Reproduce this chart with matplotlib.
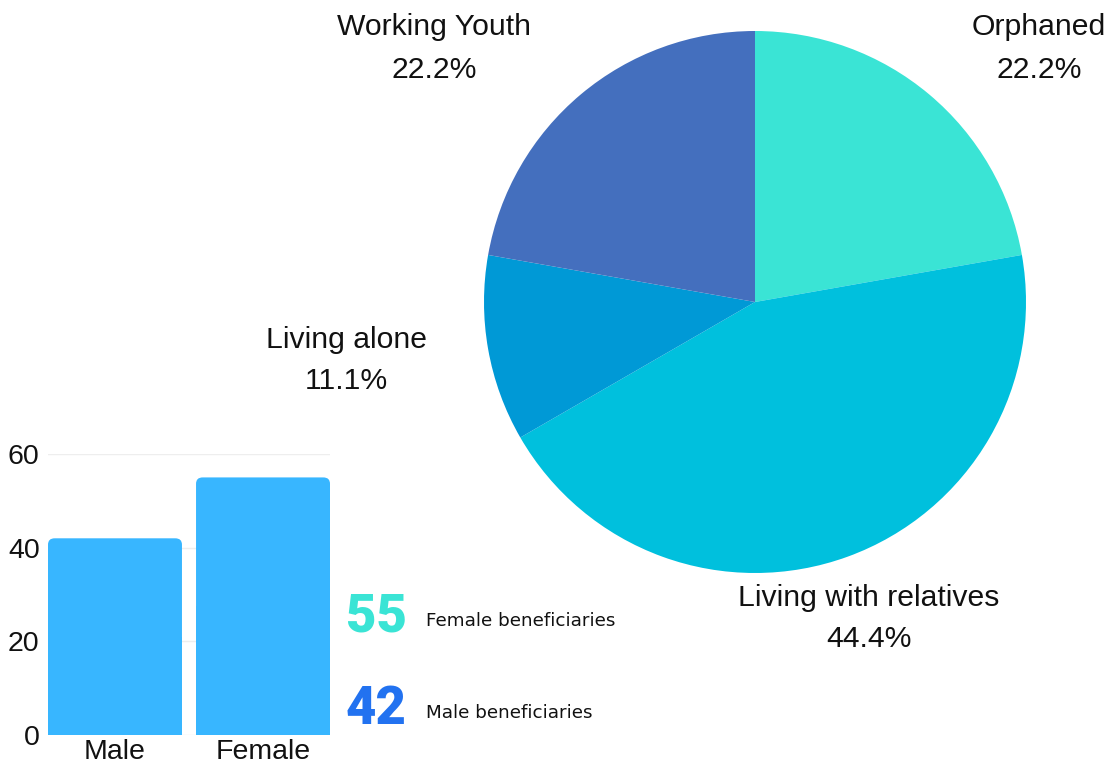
import matplotlib
matplotlib.use("Agg")
import matplotlib.pyplot as plt
from matplotlib import font_manager
from matplotlib.patches import FancyBboxPatch, Rectangle

# pie data
groups = ["Orphaned", "Living with relatives", "Living alone", "Working Youth"]
group_counts = [2, 4, 1, 2]
group_colors = ["#3AE4D5", "#00C0DD", "#0099D6", "#446FBE"]

# bar data
genders = ["Male", "Female"]
gender_counts = [42, 55]
y_ticks = [0, 20, 40, 60]

installed = {f.name for f in font_manager.fontManager.ttflist}
main_font = next((n for n in ["Liberation Sans", "Arimo", "Arial"] if n in installed), "DejaVu Sans")
plt.rcParams['font.family'] = [main_font, 'DejaVu Sans']

W, H = 1114, 768
fig = plt.figure(figsize=(W / 100, H / 100), dpi=100)
fig.patch.set_facecolor("white")


def px(x, y):
    return x / W, 1 - y / H


# ---- pie ----
ax_pie = fig.add_axes([484 / W, (H - 573) / H, 542 / W, 542 / H])
ax_pie.pie(group_counts, colors=group_colors, startangle=90, counterclock=False,
           radius=1, wedgeprops=dict(linewidth=0))
ax_pie.set_xlim(-1, 1)
ax_pie.set_ylim(-1, 1)
ax_pie.axis("off")

total = sum(group_counts)
# label centres in pie units (layout only)
label_xy = [(1.048, 0.935), (0.421, -1.168), (-1.509, -0.215), (-1.185, 0.935)]
label_gap = [1.7, 1.6, 1.6, 1.7]
for name, n, (lx, ly), ls in zip(groups, group_counts, label_xy, label_gap):
    ax_pie.text(lx, ly, f"{name}\n{100 * n / total:.1f}%", ha="center", va="center",
                fontsize=21.7, color="#111111", linespacing=ls)

# ---- bars ----
ax_bar = fig.add_axes([48 / W, (H - 735) / H, 282 / W, 281 / H])
bw = 0.905
bars = ax_bar.bar(range(len(genders)), gender_counts, width=bw, color="#38B6FF")
for b in bars:
    x0, w, h = b.get_x(), b.get_width(), b.get_height()
    b.set_visible(False)
    r = FancyBboxPatch((x0, 0), w, h, boxstyle="round,pad=0,rounding_size=0.045",
                       mutation_aspect=30, facecolor="#38B6FF", edgecolor="none", zorder=3)
    ax_bar.add_patch(r)
    ax_bar.add_patch(Rectangle((x0, 0), w, h / 2, facecolor="#38B6FF",
                               edgecolor="none", zorder=3))

ax_bar.set_xlim(-bw / 2, 1 + bw / 2)
ax_bar.set_ylim(0, 60)
ax_bar.set_yticks(y_ticks)
ax_bar.set_xticks(range(len(genders)))
ax_bar.set_xticklabels(genders)
ax_bar.tick_params(length=0, labelsize=20.5, colors="#111111")
ax_bar.tick_params(axis="y", pad=6)
ax_bar.tick_params(axis="x", pad=3)
ax_bar.grid(axis="y", color="#EEEEEE", linewidth=1)
ax_bar.set_axisbelow(True)
for s in ax_bar.spines.values():
    s.set_visible(False)

# ---- stat callouts ----
num_colors = ["#3AE4D5", "#2272F0"]
captions = ["Female beneficiaries", "Male beneficiaries"]
callout_vals = [gender_counts[1], gender_counts[0]]
callout_y = [617, 709]
for v, c, cap, yy in zip(callout_vals, num_colors, captions, callout_y):
    fig.text(*px(346, yy), str(v), fontsize=38, fontweight="black", color=c,
             ha="left", va="center", family=["Roboto", "DejaVu Sans"])
    fig.text(*px(426, yy + 4), cap, fontsize=13.2, color="#111111", ha="left",
             va="center", family=["DejaVu Sans"])

fig.savefig("out.png", dpi=100, facecolor="white")
